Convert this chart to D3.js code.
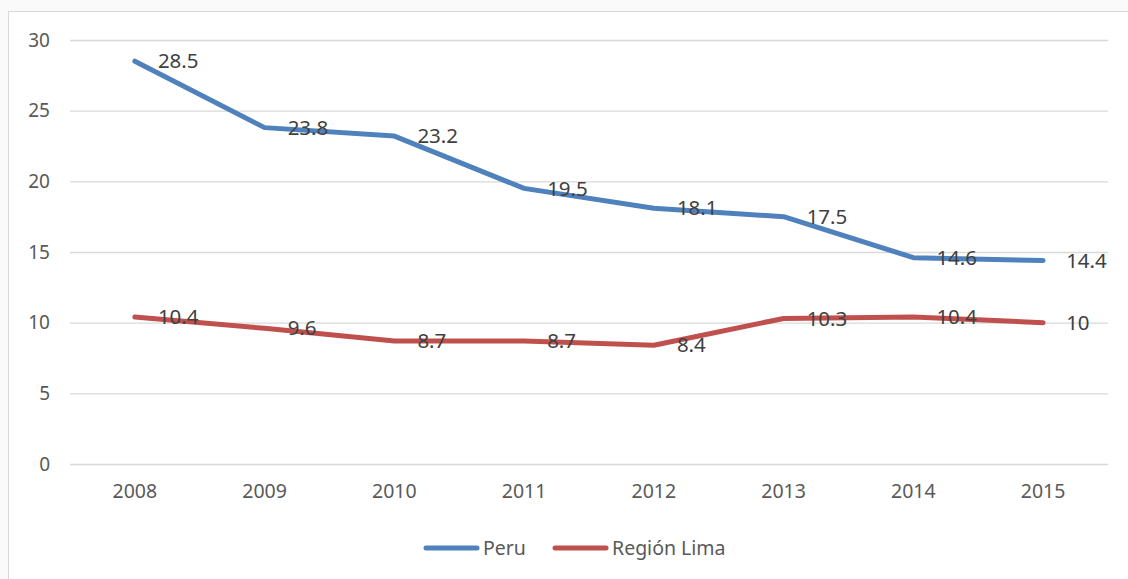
<!DOCTYPE html>
<html>
  <head>
    <meta charset="utf-8">
    <script src="https://cdn.jsdelivr.net/npm/d3@7/dist/d3.min.js"></script>
    <style>
      body { margin: 0; background: #fafafa; }
      text { font-family: "Noto Sans", "Open Sans", sans-serif; }
    </style>
  </head>
  <body>
    <script>
      const years = ['2008', '2009', '2010', '2011', '2012', '2013', '2014', '2015'];
      const peru = [28.5, 23.8, 23.2, 19.5, 18.1, 17.5, 14.6, 14.4];
      const lima = [10.4, 9.6, 8.7, 8.7, 8.4, 10.3, 10.4, 10];
      const yTicks = [0, 5, 10, 15, 20, 25, 30];

      const series = [
        {name: 'Peru', values: peru, color: '#4f81bd'},
        {name: 'Región Lima', values: lima, color: '#c0504d'}
      ];

      const width = 1128;
      const height = 579;
      const plot = {left: 70, right: 1108, top: 40, bottom: 464};

      const svg = d3.select('body')
        .append('svg')
        .attr('width', width)
        .attr('height', height);

      // chart frame
      svg.append('rect')
        .attr('x', 8.5)
        .attr('y', 11.5)
        .attr('width', width)
        .attr('height', height)
        .style('fill', '#fff')
        .style('stroke', '#d9d9d9')
        .style('stroke-width', 1);

      const x = d3.scaleBand()
        .domain(years)
        .range([plot.left, plot.right]);

      const y = d3.scaleLinear()
        .domain([0, 30])
        .range([plot.bottom, plot.top]);

      const yAxis = svg.append('g')
        .attr('transform', `translate(${plot.left},0)`)
        .call(d3.axisLeft(y).tickValues(yTicks).tickSize(-(plot.right - plot.left)).tickPadding(20));
      yAxis.select('.domain').remove();
      yAxis.selectAll('line').style('stroke', '#d9d9d9').style('stroke-width', 1.3);
      yAxis.selectAll('text').style('font-size', '19px').style('fill', '#595959');

      const xAxis = svg.append('g')
        .attr('transform', `translate(0,${plot.bottom})`)
        .call(d3.axisBottom(x).tickSize(0).tickPadding(20));
      xAxis.select('.domain').remove();
      xAxis.selectAll('text').style('font-size', '19.5px').style('fill', '#595959');

      const line = d3.line()
        .x((d, i) => x(years[i]) + x.bandwidth() / 2)
        .y(d => y(d));

      series.forEach(s => {
        svg.append('path')
          .datum(s.values)
          .attr('d', line)
          .style('fill', 'none')
          .style('stroke', s.color)
          .style('stroke-width', 5)
          .style('stroke-linecap', 'round')
          .style('stroke-linejoin', 'round');

        svg.append('g').selectAll('text')
          .data(s.values)
          .enter()
          .append('text')
          .attr('x', (d, i) => x(years[i]) + x.bandwidth() / 2 + 23)
          .attr('y', d => y(d))
          .attr('dy', '0.35em')
          .style('font-size', '20.5px')
          .style('fill', '#404040')
          .text(d => d);
      });

      // legend
      const legend = svg.append('g');
      const legendX = [424, 553];
      series.forEach((s, i) => {
        legend.append('line')
          .attr('x1', legendX[i] + 2)
          .attr('x2', legendX[i] + 53)
          .attr('y1', 548)
          .attr('y2', 548)
          .style('stroke', s.color)
          .style('stroke-width', 5)
          .style('stroke-linecap', 'round');
        legend.append('text')
          .attr('x', legendX[i] + 59)
          .attr('y', 548)
          .attr('dy', '0.35em')
          .style('font-size', '19.5px')
          .style('fill', '#595959')
          .text(s.name);
      });
    </script>
  </body>
</html>
